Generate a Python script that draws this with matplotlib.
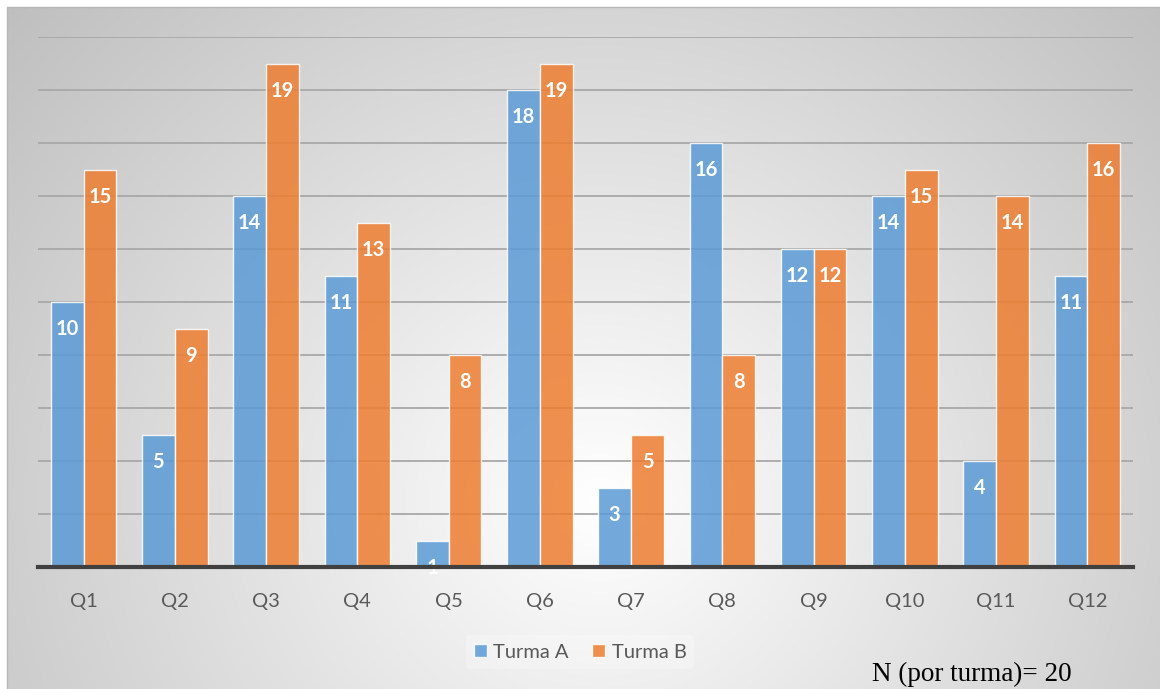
import numpy as np
import matplotlib
matplotlib.use("Agg")
import matplotlib.pyplot as plt

questions = ["Q1", "Q2", "Q3", "Q4", "Q5", "Q6", "Q7", "Q8", "Q9", "Q10", "Q11", "Q12"]
turma_a = [10, 5, 14, 11, 1, 18, 3, 16, 12, 14, 4, 11]
turma_b = [15, 9, 19, 13, 8, 19, 5, 8, 12, 15, 14, 16]
series_labels = ["Turma A", "Turma B"]
note_text = "N (por turma)= 20"

blue = "#5B9BD5"
orange = "#ED7D31"
text_grey = "#595959"

W, H = 1160, 689
fig = plt.figure(figsize=(W / 100, H / 100), dpi=100)
fig.patch.set_facecolor("white")

# background panel with radial gradient
bg = fig.add_axes([0, 0, 1, 1])
bg.set_xlim(0, W)
bg.set_ylim(H, 0)
bg.axis("off")
yy, xx = np.mgrid[0:H, 0:W]
d = np.hypot(xx - 600, (yy - 500) * 1.05)
shade = 1 - 0.25 * np.clip(d / 780, 0, 1) ** 1.0
img = np.dstack([shade, shade, shade])
img[:7, :] = 1
img[:, :7] = 1
bg.imshow(img, extent=(0, W, H, 0), aspect="auto", interpolation="bilinear")
bg.plot([7, 7, W], [H, 7, 7], color="#b8b8b8", lw=1)

ax = fig.add_axes([38 / W, 1 - 567 / H, (1133 - 38) / W, (567 - 37) / H])
ax.patch.set_alpha(0)
x = np.arange(len(questions))
w = 0.36
bars_a = ax.bar(x - w / 2, turma_a, w, color=blue, alpha=0.85,
                edgecolor=(1, 1, 1, 0.6), linewidth=1, label=series_labels[0], zorder=2)
bars_b = ax.bar(x + w / 2, turma_b, w, color=orange, alpha=0.85,
                edgecolor=(1, 1, 1, 0.6), linewidth=1, label=series_labels[1], zorder=2)

for bars, vals in [(bars_a, turma_a), (bars_b, turma_b)]:
    for b, v in zip(bars, vals):
        t = ax.text(b.get_x() + b.get_width() / 2, v - 1.02, str(v),
                    ha="center", va="center", color="white", fontsize=14.5,
                    fontweight="bold", family=["Lato", "DejaVu Sans"], zorder=3)
        t.set_clip_path(b)

ax.set_xlim(-0.5, len(questions) - 0.5)
ax.set_ylim(0, 20)
ax.set_yticks(np.arange(2, 21, 2))
ax.yaxis.grid(True, color="#a8a8a8", lw=1.3, zorder=0)
ax.set_axisbelow(True)
ax.tick_params(axis="y", left=False, labelleft=False)
ax.tick_params(axis="x", length=0, pad=19, labelsize=14.5, labelcolor=text_grey)
ax.set_xticks(x)
ax.set_xticklabels(questions, family=["Lato", "DejaVu Sans"])
for s in ["top", "right", "left"]:
    ax.spines[s].set_visible(False)
ax.spines["bottom"].set_color("#404040")
ax.spines["bottom"].set_linewidth(3)
ax.spines["bottom"].set_zorder(4)

leg = fig.legend(loc="center", bbox_to_anchor=(0.5, 1 - 652 / H), ncol=2,
                 frameon=True, handlelength=0.65, handleheight=0.65,
                 handletextpad=0.3, columnspacing=1.2,
                 prop={"family": ["Lato", "DejaVu Sans"], "size": 14.5})
leg.get_frame().set_facecolor("white")
leg.get_frame().set_alpha(0.25)
leg.get_frame().set_edgecolor("none")
for t in leg.get_texts():
    t.set_color(text_grey)

fig.text(1072 / W, 1 - 681 / H, note_text, ha="right", va="baseline",
         fontsize=19.5, family=["Liberation Serif", "DejaVu Serif"], color="black")

fig.savefig("out.png", dpi=100)
